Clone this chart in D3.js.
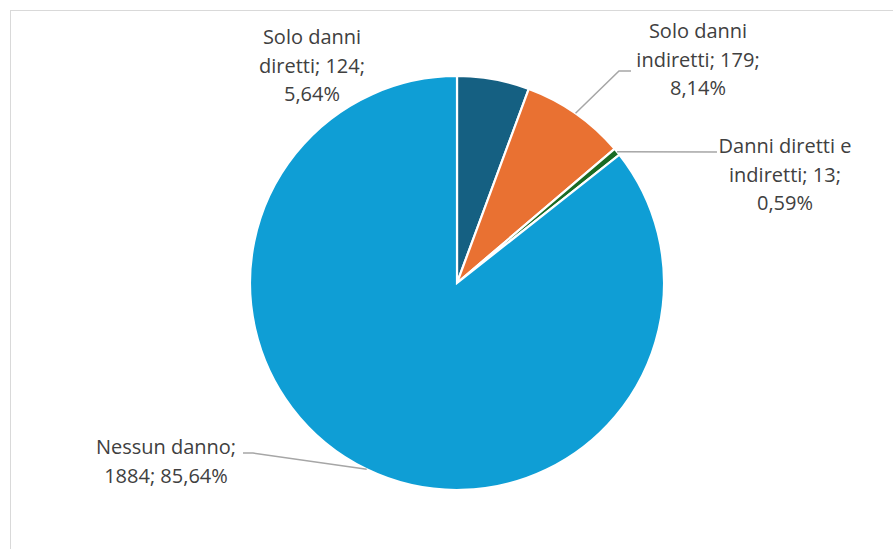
<!DOCTYPE html>
<html>
<head>
<meta charset="utf-8">
<script src="https://cdn.jsdelivr.net/npm/d3@7"></script>
<style>
  html, body { margin: 0; padding: 0; background: #fff; }
  svg { display: block; }
  text { font-family: "Open Sans", "Noto Sans", sans-serif; fill: #404040; }
</style>
</head>
<body>
<script>
// Categories and counts for the pie
const categories = ["Solo danni diretti", "Solo danni indiretti", "Danni diretti e indiretti", "Nessun danno"];
const counts = [124, 179, 13, 1884];
const percentLabels = ["5,64%", "8,14%", "0,59%", "85,64%"];
const labelLines = [
  ["Solo danni", "diretti; 124;", "5,64%"],
  ["Solo danni", "indiretti; 179;", "8,14%"],
  ["Danni diretti e", "indiretti; 13;", "0,59%"],
  ["Nessun danno;", "1884; 85,64%"]
];
const colors = ["#156082", "#E97132", "#196B24", "#0F9ED5"];

const W = 893, H = 549;
const cx = 457, cy = 283, R = 207;

const svg = d3.select("body").append("svg").attr("width", W).attr("height", H);

// chart frame
svg.append("rect")
  .attr("x", 10.5).attr("y", 10.5)
  .attr("width", W + 20).attr("height", H + 20)
  .attr("fill", "none").attr("stroke", "#d9d9d9").attr("stroke-width", 1);

const data = categories.map((c, i) => ({ name: c, value: counts[i], i }));
const pie = d3.pie().value(d => d.value).sort(null);
const arcs = pie(data);
const arc = d3.arc().innerRadius(0).outerRadius(R);

const g = svg.append("g").attr("transform", `translate(${cx},${cy})`);
g.selectAll("path.slice").data(arcs).enter().append("path")
  .attr("class", "slice")
  .attr("d", arc)
  .attr("fill", d => colors[d.data.i])
  .attr("stroke", "#fff")
  .attr("stroke-width", 2.2)
  .attr("stroke-linejoin", "miter");

// label layout: centre x, first line y, and optional leader elbow/end
const labelLayout = [
  { x: 312, y: 44, leader: null },
  { x: 698, y: 38, leader: [[619, 71], [631, 71]] },
  { x: 785, y: 153, leader: [[717, 152]] },
  { x: 166, y: 454, leader: [[253, 453], [243, 453]] }
];
const lineH = 28.5;

arcs.forEach((a, k) => {
  const L = labelLayout[k];
  if (L.leader) {
    const mid = (a.startAngle + a.endAngle) / 2;
    const p0 = [cx + R * Math.sin(mid), cy - R * Math.cos(mid)];
    const pts = [p0].concat(L.leader);
    svg.append("path")
      .attr("d", d3.line()(pts))
      .attr("fill", "none")
      .attr("stroke", "#a6a6a6")
      .attr("stroke-width", 1.5);
  }
  const t = svg.append("text")
    .attr("text-anchor", "middle")
    .attr("font-size", 20);
  labelLines[k].forEach((ln, j) => {
    t.append("tspan").attr("x", L.x).attr("y", L.y + j * lineH).text(ln);
  });
});
</script>
</body>
</html>
